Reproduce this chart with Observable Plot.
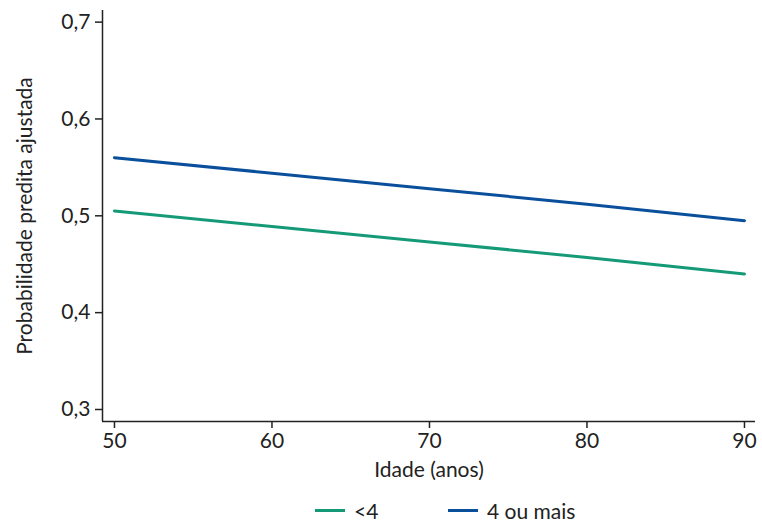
<!DOCTYPE html>
<html>
<head>
<meta charset="utf-8">
<script src="https://cdn.jsdelivr.net/npm/d3@7"></script>
<script src="https://cdn.jsdelivr.net/npm/@observablehq/plot@0.6"></script>
<style>
  body { margin: 0; background: #fff; font-family: Lato, "Open Sans", sans-serif; }
  #legend { font-size: 21px; color: #222; height: 34px; position: relative; }
  .item { display: flex; align-items: center; position: absolute; }
  .sw { width: 30px; height: 3px; margin-right: 9px; }
</style>
</head>
<body>
<div id="chart"></div>
<div id="legend"></div>
<script>
const ages = [50, 60, 70, 80, 90];
const seriesNames = ["<4", "4 ou mais"];
const valuesLt4 = [0.505, 0.489, 0.473, 0.457, 0.440];
const values4plus = [0.560, 0.544, 0.528, 0.512, 0.495];
const colors = ["#159a78", "#0a4f9c"];
const yTicks = [0.3, 0.4, 0.5, 0.6, 0.7];
const xTicks = [50, 60, 70, 80, 90];
const xLabel = "Idade (anos)";
const yLabel = "Probabilidade predita ajustada";

const data = [];
ages.forEach((a, i) => {
  data.push({age: a, p: valuesLt4[i], s: seriesNames[0]});
  data.push({age: a, p: values4plus[i], s: seriesNames[1]});
});

const xDomain = [49.24, 90.7];
const yDomain = [0.2876, 0.712];
const fmt = d => d3.format(".1f")(d).replace(".", ",");
const FS = 21;

const chart = Plot.plot({
  width: 762,
  height: 490,
  marginLeft: 102,
  marginRight: 7,
  marginTop: 10,
  marginBottom: 69,
  style: {fontFamily: "Lato, 'Open Sans', sans-serif", fontSize: FS + "px", color: "#222"},
  x: {domain: xDomain},
  y: {domain: yDomain},
  color: {domain: seriesNames, range: colors},
  marks: [
    Plot.axisX({ticks: xTicks, tickSize: 7, tickPadding: 5, fontSize: FS, label: null, stroke: "#222", strokeWidth: 1.5}),
    Plot.axisY({ticks: yTicks, tickSize: 7, tickPadding: 5, fontSize: FS, tickFormat: fmt, label: null, stroke: "#222", strokeWidth: 1.5}),
    Plot.text([xLabel], {text: d => d, frameAnchor: "bottom", dy: 55, fontSize: FS, fill: "#222"}),
    Plot.text([yLabel], {text: d => d, frameAnchor: "left", textAnchor: "middle", dx: -77, rotate: -90, fontSize: FS, fill: "#222"}),
    Plot.ruleX([xDomain[0]], {stroke: "#222", strokeWidth: 1.5}),
    Plot.ruleY([yDomain[0]], {stroke: "#222", strokeWidth: 1.5}),
    Plot.line(data, {x: "age", y: "p", z: "s", stroke: "s", strokeWidth: 3})
  ]
});
document.getElementById("chart").appendChild(chart);

const legend = document.getElementById("legend");
const positions = [315, 448];
seriesNames.forEach((n, i) => {
  const it = document.createElement("div");
  it.className = "item";
  it.style.left = positions[i] + "px";
  it.style.top = "8px";
  const sw = document.createElement("span");
  sw.className = "sw";
  sw.style.background = colors[i];
  const tx = document.createElement("span");
  tx.textContent = n;
  it.appendChild(sw); it.appendChild(tx);
  legend.appendChild(it);
});
</script>
</body>
</html>
